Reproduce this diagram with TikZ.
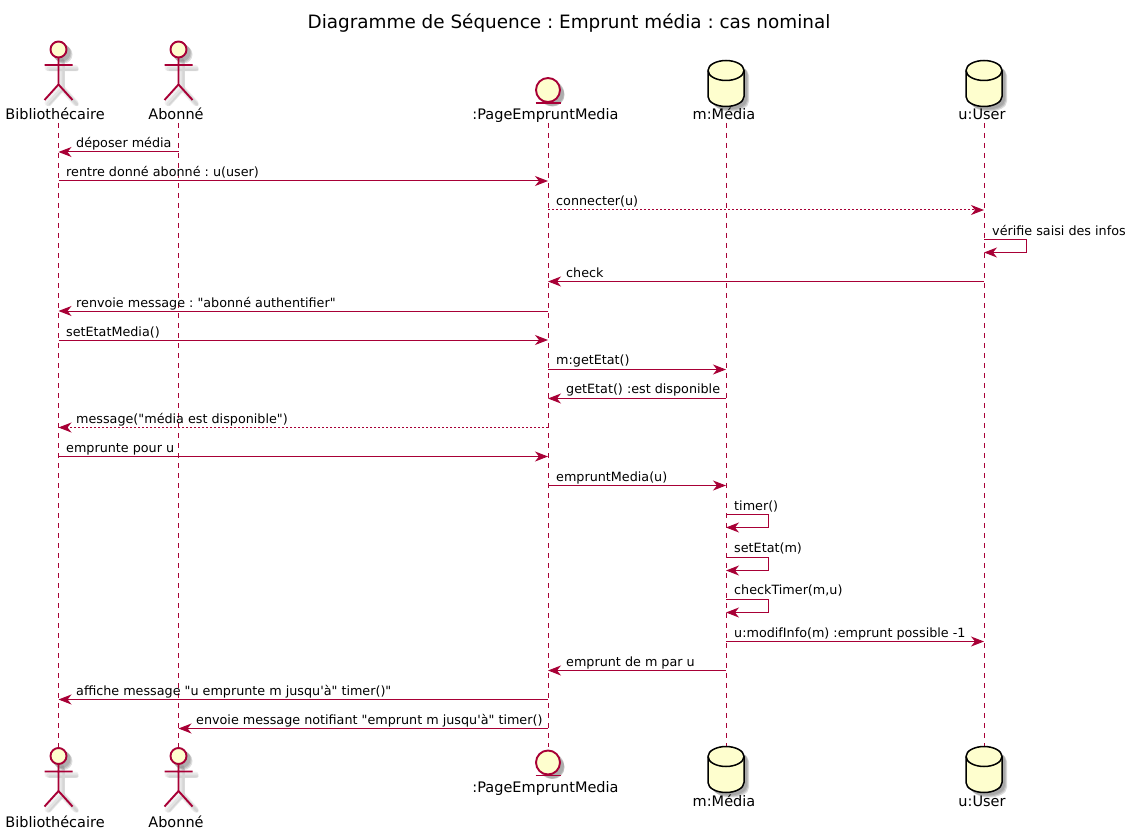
\documentclass[tikz,border=0pt]{standalone}
\usepackage{fontspec}
\newfontfamily\djv{DejaVu Sans}
\usetikzlibrary{arrows.meta}
\frenchspacing
\definecolor{puml}{HTML}{A80036}
\definecolor{pfill}{HTML}{FEFECE}
\newcommand\actorshape[2]{%
  \begin{scope}[shift={(#1,#2)}]
    \foreach \o/\w/\a in {3/6/.05,4/4.5/.06,5/2.5/.06}{
      \draw[black,opacity=\a,line width=\w pt,line cap=round]
        (\o,\o+8) -- (\o,\o+35) (\o-14,\o+15.5) -- (\o+14,\o+15.5)
        (\o-14,\o+50.5) -- (\o,\o+35) -- (\o+14,\o+50.5);
      \fill[black,opacity=\a*2] (\o,\o) circle (9);
    }
    \draw[actorline,fill=pfill] (0,0) circle (8);
    \draw[actorline] (0,8) -- (0,35) (-14,15.5) -- (14,15.5)
      (-14,50.5) -- (0,35) -- (14,50.5);
  \end{scope}}
\newcommand\entityshape[2]{%
  \begin{scope}[shift={(#1,#2)}]
    \foreach \o/\r/\a in {3/13/.1,4/12.5/.12,5/11.5/.14}{
      \fill[black,opacity=\a] (\o,\o) circle (\r);
    }
    \draw[actorline,fill=pfill] (0,0) circle (12);
    \draw[actorline] (-12.5,13) -- (12.5,13);
  \end{scope}}
\newcommand\dbpath{(-18,10) -- (-18,36) .. controls (-18,42) and (-9,46) .. (0,46) .. controls (9,46) and (18,42) .. (18,36) -- (18,10) .. controls (18,4) and (9,0) .. (0,0) .. controls (-9,0) and (-18,4) .. (-18,10) -- cycle}
\newcommand\dbshape[2]{%
  \begin{scope}[shift={(#1,#2)}]
    \foreach \o/\a in {3/.1,4/.14,5/.14}{
      \fill[black,opacity=\a,shift={(\o,\o)}] \dbpath;
    }
    \draw[black,line width=1.5pt,fill=pfill] \dbpath;
    \draw[black,line width=1.5pt] (-18,10) .. controls (-18,16) and (-9,20) .. (0,20) .. controls (9,20) and (18,16) .. (18,10);
  \end{scope}}
\newcommand\msg[6][msgline]{% style, from, to, y, label anchor x, text
  \draw[#1] (#2 |- 0,#4) -- (#3 |- 0,#4);
  \node[msgtext] (m#4) at (#5,#4-4) {#6};}
\newcommand\msgup[5]{% from, to, y, label anchor x, text; label one pixel higher
  \draw[msgline] (#1 |- 0,#3) -- (#2 |- 0,#3);
  \node[msgtext] (m#3) at (#4,#3-5) {#5};}
\newcommand\selfmsg[5][4]{% label rise, lifeline, y1, x, text
  \draw[msgline] (#2 |- 0,#3) -- ++(42,0) -- ++(0,13) -- (#2 |- 0,#3+13);
  \node[msgtext] (m#3) at (#4,#3-#1) {#5};}
\begin{document}
\begin{tikzpicture}[x=1pt,y=-1pt,
  actorline/.style={draw=puml,line width=1.9pt},
  lifeline/.style={draw=puml,line width=1pt,dash pattern=on 5pt off 5pt},
  msgline/.style={draw=puml,line width=1pt,-{Stealth[length=13pt,width=10pt,inset=4pt,fill=puml]}},
  msgdash/.style={msgline,dash pattern=on 2pt off 2pt},
  msgtext/.style={anchor=base west,inner sep=0pt,font=\djv\frenchspacing\fontsize{12.75}{15}\selectfont,text=black},
  partname/.style={anchor=base,inner sep=0pt,font=\djv\fontsize{14.5}{16}\selectfont,text=black}]
\useasboundingbox (0,0) rectangle (1131,834);
\fill[white] (0,0) rectangle (1131,834);
\node[anchor=base,inner sep=0pt,font=\djv\frenchspacing\fontsize{18.4}{22}\selectfont] (title) at (569,28.5) {Diagramme de Séquence : Emprunt média : cas nominal};
% lifelines
\coordinate (bibT) at (58.5,123);  \coordinate (bibB) at (58.5,747);
\coordinate (aboT) at (178.5,123); \coordinate (aboB) at (178.5,747);
\coordinate (pagT) at (548,123);   \coordinate (pagB) at (548,747);
\coordinate (medT) at (726,123);   \coordinate (medB) at (726,747);
\coordinate (usrT) at (984,123);   \coordinate (usrB) at (984,747);
\foreach \n in {bib,abo,pag,med,usr}{\draw[lifeline] (\n T) -- (\n B);}
% heads
\actorshape{58.5}{49.5}\node[partname] (bibH) at (55,120) {Bibliothécaire};
\actorshape{178.5}{49.5}\node[partname] (aboH) at (176,120) {Abonné};
\entityshape{548}{90}\node[partname] (pagH) at (545.5,120) {:PageEmpruntMedia};
\dbshape{726}{60.5}\node[partname] (medH) at (724,120) {m:Média};
\dbshape{984}{60.5}\node[partname] (usrH) at (982,120) {u:User};
% feet
\actorshape{58.5}{756}\node[partname] (bibF) at (55,827) {Bibliothécaire};
\actorshape{178.5}{756}\node[partname] (aboF) at (176,827) {Abonné};
\entityshape{548}{762.5}\node[partname] (pagF) at (545.5,792) {:PageEmpruntMedia};
\dbshape{726}{746.5}\node[partname] (medF) at (724,806) {m:Média};
\dbshape{984}{746.5}\node[partname] (usrF) at (982,806) {u:User};
% messages
\msg{aboT}{bibT}{152}{76}{déposer média}
\msg{bibT}{pagT}{181}{66}{rentre donné abonné : u(user)}
\msg[msgdash]{pagT}{usrT}{210}{556}{connecter(u)}
\selfmsg{usrT}{239.5}{992}{vérifie saisi des infos}
\msg{usrT}{pagT}{281.5}{566}{check}
\msg{pagT}{bibT}{311}{76}{renvoie message : "abonné authentifier"}
\msg{bibT}{pagT}{340}{66}{setEtatMedia()}
\msgup{pagT}{medT}{369.5}{556}{m:getEtat()}
\msgup{medT}{pagT}{398.5}{566}{getEtat() :est disponible}
\msg[msgdash]{pagT}{bibT}{427.5}{76}{message("média est disponible")}
\msg{bibT}{pagT}{456.5}{66}{emprunte pour u}
\msg{pagT}{medT}{485.5}{556}{empruntMedia(u)}
\selfmsg{medT}{514.5}{734}{timer()}
\selfmsg[5.5]{medT}{557.5}{734}{setEtat(m)}
\selfmsg[5.5]{medT}{599.5}{734}{checkTimer(m,u)}
\msg{medT}{usrT}{641.5}{734}{u:modifInfo(m) :emprunt possible -1}
\msg{medT}{pagT}{670.5}{566}{emprunt de m par u}
\msg{pagT}{bibT}{699.5}{76}{affiche message "u emprunte m jusqu'à" timer()"}
\msg{pagT}{aboT}{728.5}{196}{envoie message notifiant "emprunt m jusqu'à" timer()}
\end{tikzpicture}
\end{document}
